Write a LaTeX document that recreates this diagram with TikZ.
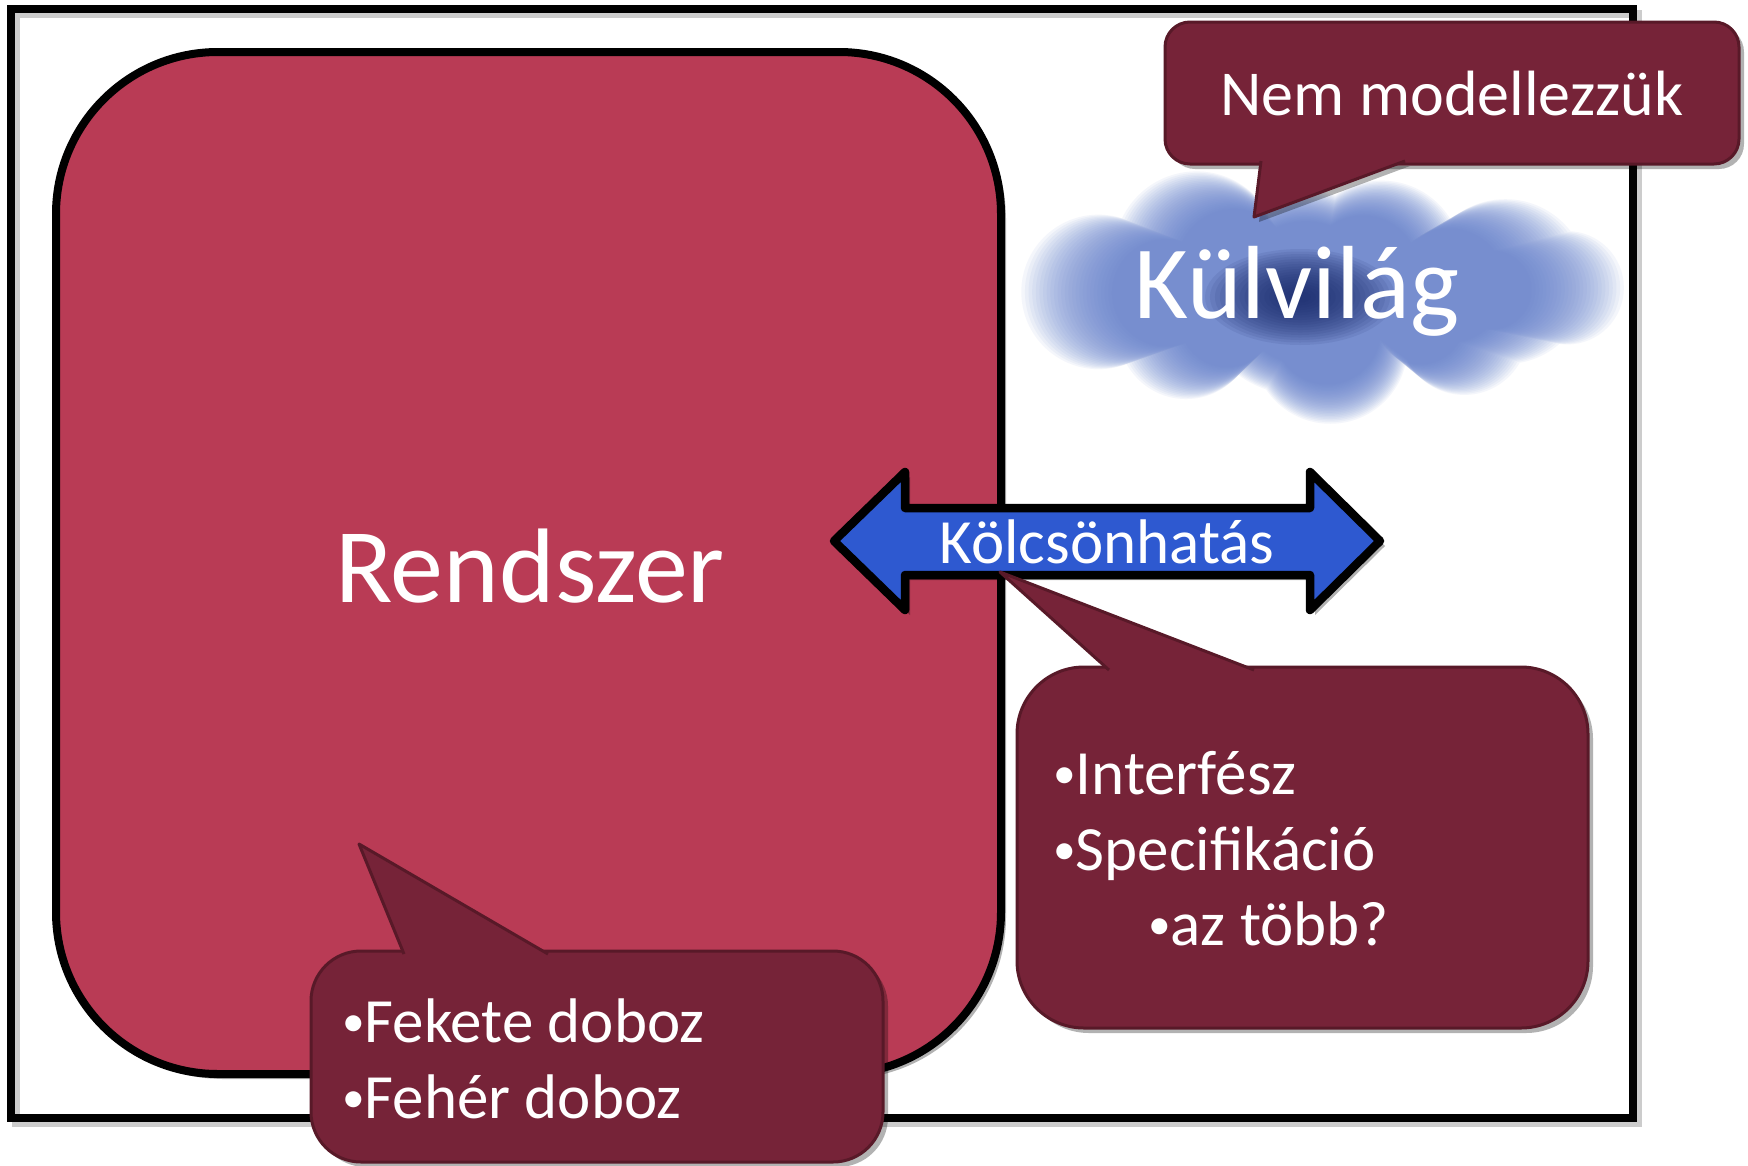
\documentclass[tikz,border=0pt]{standalone}
\usepackage{fontspec}
\setmainfont{Carlito}
\usetikzlibrary{shadows}
\definecolor{rend}{RGB}{185,59,85}
\definecolor{callfill}{RGB}{118,35,56}
\definecolor{calldraw}{RGB}{88,25,40}
\definecolor{arrblue}{RGB}{46,89,208}
\definecolor{cloudlight}{RGB}{98,126,205}
\definecolor{clouddark}{RGB}{22,40,105}
\newcommand\bul{\raisebox{0.09em}{\scalebox{0.72}{•}}}
\begin{document}
\begin{tikzpicture}[x=1pt,y=-1pt,
  shad/.style={drop shadow={shadow xshift=5pt, shadow yshift=-5pt, opacity=0.3, fill=black}},
  callout/.style={fill=callfill, draw=calldraw, line width=3pt, line join=round},
  bigtext/.style={text=white, font=\fontsize{106}{120}\selectfont, inner sep=0pt},
  smalltext/.style={text=white, font=\fontsize{63}{74}\selectfont, inner sep=0pt},
]
\useasboundingbox (0,0) rectangle (1748,1165);
\fill[white] (0,0) rectangle (1748,1165);

% outer frame with its shadow
\draw[line width=7.5pt, black!20] (16,14) rectangle (1638,1123);
\draw[line width=7.5pt] (11,9) rectangle (1633,1118);

% Rendszer box
\draw[line width=8pt, fill=rend, rounded corners=162pt, shad] (56,52) rectangle (1001,1074);
\node[bigtext, anchor=base] (rendszer) at (530,602) {Rendszer};

% cloud: nested soft layers of one lumpy outline
\foreach \k in {0,...,25} {
  \pgfmathsetmacro\s{1.03-0.0125*\k}
  \begin{scope}[shift={(1320,295)}, scale=\s]
  \fill[cloudlight, opacity=0.065]
    (-120,-40) circle (80)
    (60,-33) circle (78)
    (180,-13) circle (80)
    (-215,-3) circle (75)
    (-130,35) circle (66)
    (10,50) circle (75)
    (140,35) circle (62)
    (240,-7) circle (55)
    (-20,-3) circle (100);
  \end{scope}
}
\foreach \k in {0,...,17} {
  \pgfmathsetmacro\s{1-0.052*\k}
  \fill[clouddark, opacity=0.09] (1300,297) ellipse ({95*\s} and {48*\s});
}
\node[bigtext, font=\fontsize{104}{120}\selectfont, anchor=base] (kulvilag) at (1297,318) {Külvilág};

% Nem modellezzuk callout
\draw[callout, shad, rounded corners=25pt] (1165,22) rectangle (1739,164);
\draw[callout, shad] (1261,161) -- (1254,217) -- (1405,161);
\node[smalltext, font=\fontsize{64}{74}\selectfont, anchor=base] (nem) at (1452,115) {Nem modellezzük};

% double arrow
\draw[fill=arrblue, line width=8.5pt, line join=round, shad]
  (834,541) -- (905,472) -- (905,508) -- (1310,508) -- (1310,472) -- (1380,541)
  -- (1310,610) -- (1310,575) -- (905,575) -- (905,610) -- cycle;
\node[smalltext, anchor=base] (kolcson) at (1107,563) {Kölcsönhatás};

% Interfesz callout
\draw[callout, shad, rounded corners=67pt] (1017,667) rectangle (1588,1028);
\draw[callout] (1109,670) -- (1000,572) -- (1254,670);
\node[smalltext, anchor=base west] (interf) at (1053,794) {\bul Interfész};
\node[smalltext, anchor=base west] (spec) at (1053,870) {\bul Specifikáció};
\node[smalltext, anchor=base west] (tobb) at (1148,945) {\bul az több?};

% Fekete doboz callout
\draw[callout, shad, rounded corners=50pt] (311,951) rectangle (883,1162);
\draw[callout] (404,954) -- (359,844) -- (548,954);
\node[smalltext, anchor=base west] (fekete) at (342,1042) {\bul Fekete doboz};
\node[smalltext, anchor=base west] (feher) at (342,1118) {\bul Fehér doboz};
\end{tikzpicture}
\end{document}
